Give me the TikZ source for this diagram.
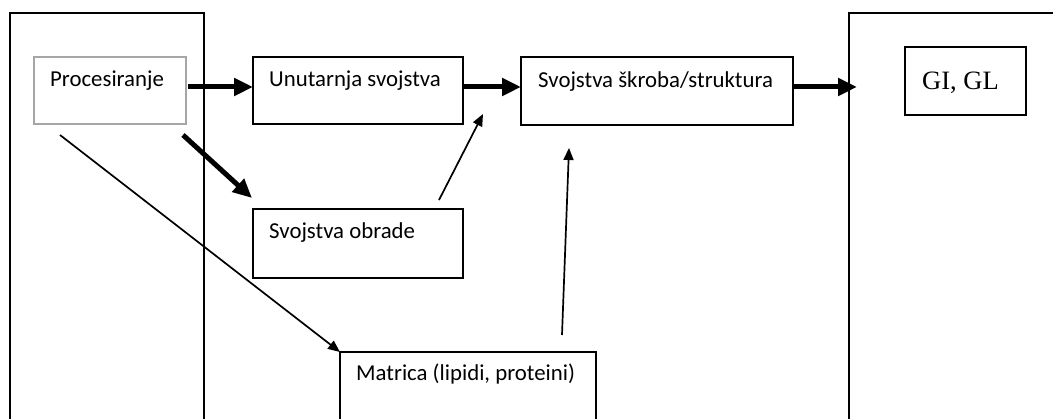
\documentclass[tikz,border=0pt]{standalone}
\usepackage{fontspec}
\setmainfont{Carlito}
\newfontfamily\timesf{Liberation Serif}
\usetikzlibrary{arrows.meta,calc}
\tikzset{
  box/.style={draw, line width=1.6pt, minimum width=#1, inner sep=0pt, outer sep=0pt},
  txt/.style={anchor=base west, inner sep=0pt, font=\fontsize{22.8}{27}\selectfont},
  thick arrow/.style={line width=5pt, -{Triangle[length=19pt,width=17pt]}},
  thin arrow/.style={line width=1.7pt, -{Triangle[length=12pt,width=10pt]}},
}
\begin{document}
\begin{tikzpicture}[x=1pt,y=-1pt]
\useasboundingbox (0,0) rectangle (1053,419);
\fill[white] (0,0) rectangle (1053,419);
\clip (0,0) rectangle (1053,419);
% big frames (open at the bottom / right, beyond the page)
\node[box=194pt, minimum height=440pt, line width=1.4pt] (leftframe) at (107,233) {};
\node[box=240pt, minimum height=440pt, line width=1.4pt] (rightframe) at (969,233) {};
% boxes
\node[box=152pt, minimum height=67pt, draw=black!35, line width=1.3pt] (proc) at (110,90.5) {};
\node[box=210pt, minimum height=67pt] (unut) at (358,90.5) {};
\node[box=272pt, minimum height=68pt] (skrob) at (657,91) {};
\node[box=121pt, minimum height=68pt, fill=white] (gi) at (965.5,81) {};
\node[box=210pt, minimum height=69pt] (obrade) at (358,243.5) {};
\node[box=256pt, minimum height=100pt] (matrica) at (468,402) {};
% texts
\node[txt] (tproc) at (50,87) {Procesiranje};
\node[txt] (tunut) at (269,87) {Unutarnja svojstva};
\node[txt] (tskrob) at (538,88) {Svojstva škroba/struktura};
\node[txt] (tobrade) at (269,239) {Svojstva obrade};
\node[txt] (tmatrica) at (356,381) {Matrica (lipidi, proteini)};
\node[txt, font=\timesf\fontsize{26.5}{30}\selectfont] (tgi) at (922,90) {GI, GL};
% helper coordinates
\coordinate (procA) at ($(proc.south west)+(26,11)$);
\coordinate (procB) at ($(proc.south east)+(-3,11)$);
\coordinate (obradeTop) at ($(obrade.north east)+(-24,-9)$);
\coordinate (gapTip) at ($(unut.south east)+(20,-10)$);
\coordinate (matTop) at ($(matrica.north)+(94,-17)$);
\coordinate (skrobBelow) at ($(skrob.south west)+(48,23)$);
\coordinate (obradeTip) at ($(obrade.north west)+(-1,-11)$);
\coordinate (frameTip) at ($(skrob.east)+(64,-4)$);
% thick arrows
\draw[thick arrow] ($(proc.east)+(2,-3.5)$) -- ($(unut.west)+(0,-3.5)$);
\draw[thick arrow] ($(unut.east)+(0,-3.5)$) -- ($(skrob.west)+(0,-4)$);
\draw[thick arrow] ($(skrob.east)+(0,-4)$) -- (frameTip);
\draw[thick arrow] (procB) -- (obradeTip);
% thin arrows
\draw[thin arrow] (procA) -- (matrica.north west);
\draw[thin arrow] (obradeTop) -- (gapTip);
\draw[thin arrow] (matTop) -- (skrobBelow);
\end{tikzpicture}
\end{document}
